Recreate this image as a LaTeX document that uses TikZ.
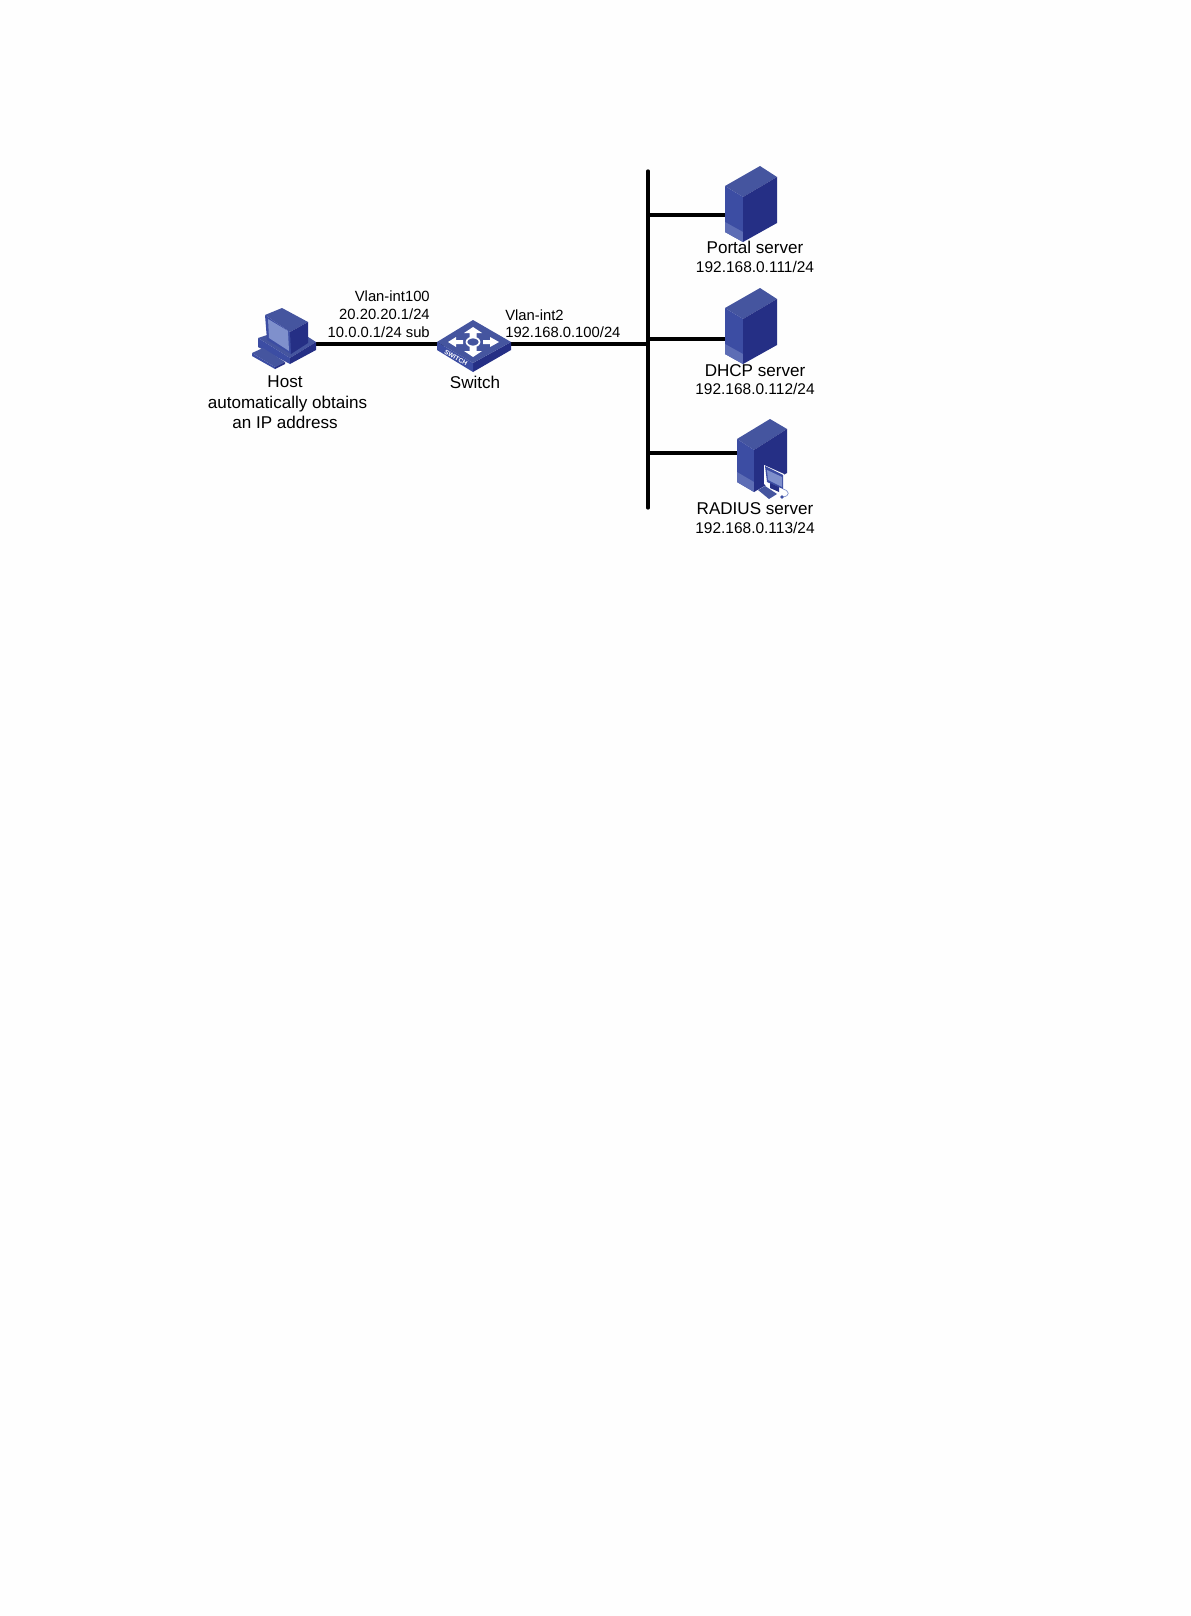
\documentclass[tikz,border=0pt]{standalone}
\usepackage{fontspec}
\setmainfont{Liberation Sans}
\definecolor{tp}{HTML}{45559F}
\definecolor{lf}{HTML}{3C4DA3}
\definecolor{rt}{HTML}{252F85}
\definecolor{md}{HTML}{7F90CC}
\definecolor{st}{HTML}{5D6DB5}
\definecolor{bg}{HTML}{FEFEFE}
\tikzset{
  x=0.75pt,y=-0.75pt,
  bigt/.style={font=\fontsize{12.8}{15}\selectfont,inner sep=0,anchor=base,align=center},
  midt/.style={font=\fontsize{11.6}{14}\selectfont,inner sep=0,anchor=base},
  smt/.style={font=\fontsize{11.1}{13}\selectfont,inner sep=0,anchor=base east},
  link/.style={line width=2.9pt,black},
  bus/.style={line width=2.9pt,black,line cap=round},
  pt/.style={inner sep=0,minimum size=0pt}
}
\begin{document}
\begin{tikzpicture}
\useasboundingbox[fill=bg] (0,0) rectangle (1190,1616);

% connection points
\node[pt] (host) at (316,344) {};
\node[pt] (sw) at (474,344) {};
\node[pt] (swr) at (510,344) {};
\node[pt] (bustop) at (648,171) {};
\node[pt] (busbot) at (648,508) {};
\node[pt] (jmain) at (648,344) {};
\node[pt] (j1) at (648,215) {};
\node[pt] (j2) at (648,339) {};
\node[pt] (j3) at (648,453) {};
\node[pt] (portal) at (726,215) {};
\node[pt] (dhcp) at (726,339) {};
\node[pt] (radius) at (738,453) {};

% links
\draw[bus] (bustop) -- (busbot);
\draw[link] (host) -- (sw);
\draw[link] (swr) -- (jmain);
\draw[link] (j1) -- (portal);
\draw[link] (j2) -- (dhcp);
\draw[link] (j3) -- (radius);

% host
\fill[tp] (258,338) -- (267,335) -- (305,335) -- (316,342) -- (290,358) -- cycle;
\fill[lf] (258,338) -- (290,358) -- (290,364) -- (258,347) -- cycle;
\fill[rt] (290,358) -- (316,342) -- (316,350) -- (290,364) -- cycle;
\fill[tp] (252,353) -- (263,348) -- (285,362) -- (275,367) -- cycle;
\fill[lf] (252,353) -- (275,367) -- (275,369) -- (252,356) -- cycle;
\fill[rt] (275,367) -- (285,362) -- (285,364) -- (275,369) -- cycle;
\fill[tp] (265,315) -- (282,308) -- (308,322) -- (290,332) -- cycle;
\fill[lf] (265,315) -- (290,332) -- (291,354) -- (267,340) -- cycle;
\fill[rt] (290,332) -- (308,322) -- (308,343) -- (291,354) -- cycle;
\fill[md] (268,319) -- (288,331) -- (289,351) -- (269,338) -- cycle;

% switch
\fill[rt] (473,363) -- (511,342) -- (511,350) -- (473,372) -- cycle;
\fill[lf] (437,342) -- (473,363) -- (473,372) -- (437,350) -- cycle;
\fill[tp] (473,320) -- (511,342) -- (473,363) -- (437,342) -- cycle;
\draw[white,line width=1.3pt] (473,342) ellipse (6.5 and 4.5);
\fill[white] (473,327) -- (482,333) -- (476.5,333) -- (476.5,337) -- (469.5,337) -- (469.5,333) -- (464,333) -- cycle;
\fill[white] (473,357) -- (482,351) -- (476.5,351) -- (476.5,347) -- (469.5,347) -- (469.5,351) -- (464,351) -- cycle;
\fill[white] (448,342) -- (456,337) -- (456,340) -- (463,340) -- (463,344) -- (456,344) -- (456,347) -- cycle;
\fill[white] (499,342) -- (490,337) -- (490,340) -- (483,340) -- (483,344) -- (490,344) -- (490,347) -- cycle;
\node[pt,white,font=\bfseries\fontsize{4.8}{5}\selectfont,rotate=-30] (swlabel) at (456,358) {SWITCH};

% portal and dhcp servers
\foreach \dy in {0,122}{
  \begin{scope}[yshift=-0.75*\dy pt]
  \fill[tp] (760,166) -- (777,177) -- (743,197) -- (725,186) -- cycle;
  \fill[lf] (725,186) -- (743,197) -- (743,242) -- (725,232) -- cycle;
  \fill[st] (725,222) -- (743,232) -- (743,242) -- (725,232) -- cycle;
  \fill[rt] (743,197) -- (777,177) -- (777,223) -- (743,242) -- cycle;
  \end{scope}
}

% radius server
\fill[tp] (770,419) -- (787,429) -- (754,450) -- (737,439) -- cycle;
\fill[lf] (737,439) -- (754,450) -- (754,492) -- (737,482) -- cycle;
\fill[st] (737,472) -- (754,482) -- (754,492) -- (737,482) -- cycle;
\fill[rt] (754,450) -- (787,429) -- (787,473) -- (754,492) -- cycle;
\fill[white] (764,465) -- (784,474) -- (784,490) -- (771,489) -- (764,484) -- cycle;
\fill[lf] (765,466) -- (783,475) -- (783,489) -- (767,482) -- cycle;
\fill[md] (767,470) -- (782,477) -- (782,487) -- (768,480) -- cycle;
\fill[rt] (770,483) -- (779,487) -- (779,492) -- (770,488) -- cycle;
\fill[tp] (758,490) -- (765,486) -- (777,494) -- (769,499) -- cycle;
\draw[md,line width=0.5pt] (783,489) .. controls (790,491) and (790,496) .. (783,497);
\fill[lf] (782,497) circle (1.8);

% labels
\node[bigt] (hostlabel) at (285,387) {Host};
\node[bigt] (hostlabel2) at (287.5,408) {automatically obtains};
\node[bigt] (hostlabel3) at (285,428) {an IP address};
\node[bigt] (swname) at (475,388) {Switch};
\node[smt] (v1) at (430,301) {Vlan-int100};
\node[smt] (v2) at (430,319) {20.20.20.1/24};
\node[smt] (v3) at (430,337) {10.0.0.1/24 sub};
\node[smt,anchor=base west] (v4) at (505,320) {Vlan-int2};
\node[smt,anchor=base west] (v5) at (505,337) {192.168.0.100/24};
\node[bigt] (pn) at (755,253) {Portal server};
\node[midt] (pi) at (755,272) {192.168.0.111/24};
\node[bigt] (dn) at (755,376) {DHCP server};
\node[midt] (di) at (755,394) {192.168.0.112/24};
\node[bigt] (rn) at (755,514) {RADIUS server};
\node[midt] (ri) at (755,533) {192.168.0.113/24};
\end{tikzpicture}
\end{document}
